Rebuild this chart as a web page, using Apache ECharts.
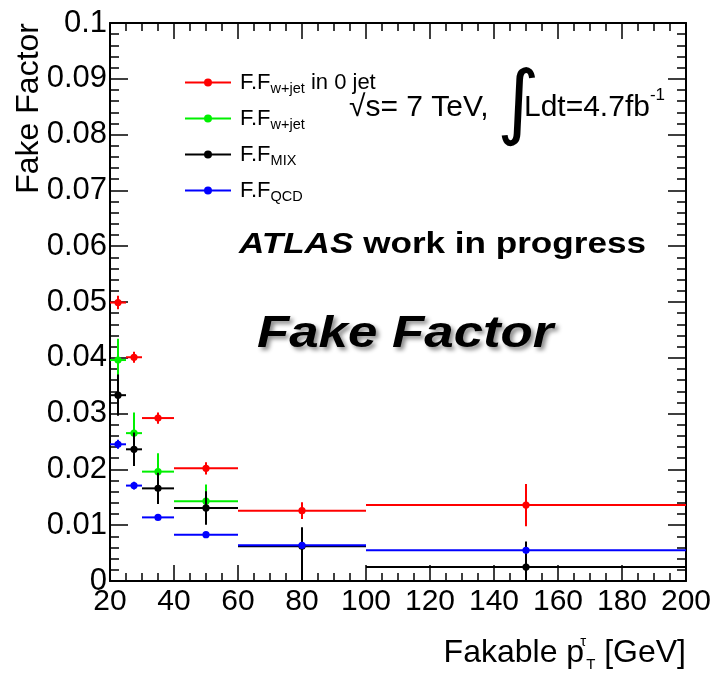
<!DOCTYPE html>
<html>
<head>
<meta charset="utf-8">
<script src="https://cdn.jsdelivr.net/npm/echarts@6/dist/echarts.min.js"></script>
<style>html,body{margin:0;padding:0;background:#fff}#c{width:714px;height:677px}</style>
</head>
<body>
<div id="c"></div>
<script>
// ---- data ----
const binLo = [20, 25, 30, 40, 60, 100];
const binHi = [25, 30, 40, 60, 100, 200];
const binCenter = [22.5, 27.5, 35, 50, 80, 150];

const ffW0jet = [0.0499, 0.0401, 0.0292, 0.0202, 0.0126, 0.0136];
const ffW0jetErr = [0.0012, 0.0010, 0.0010, 0.0011, 0.0015, 0.0038];

const ffWjet = [0.0396, 0.0265, 0.0196, 0.0143];
const ffWjetErr = [0.0038, 0.0037, 0.0033, 0.0030];

const ffMix = [0.0333, 0.0236, 0.0166, 0.0131, 0.00625, 0.0025];
const ffMixErrUp = [0.0037, 0.0030, 0.0028, 0.0030, 0.0034, 0.0046];
const ffMixErrDown = [0.0037, 0.0030, 0.0028, 0.0030, 0.00625, 0.0025];

const ffQcd = [0.0245, 0.0171, 0.0114, 0.0083, 0.0064, 0.0055];
const ffQcdErr = [0.0008, 0.0007, 0.0004, 0.0003, 0.0003, 0.0003];

const seriesNames = ['FF_wjet_0jet', 'FF_wjet', 'FF_MIX', 'FF_QCD'];
const legendMain = ['F.F', 'F.F', 'F.F', 'F.F'];
const legendSub = ['w+jet', 'w+jet', 'MIX', 'QCD'];
const legendTail = [' in 0 jet', '', '', ''];
const seriesColors = ['#ff0000', '#00f000', '#000000', '#0000ff'];

const xTicks = [20, 40, 60, 80, 100, 120, 140, 160, 180, 200];
const yTicks = [0, 0.01, 0.02, 0.03, 0.04, 0.05, 0.06, 0.07, 0.08, 0.09, 0.1];

function build(vals, up, down) {
  const out = [];
  for (let i = 0; i < vals.length; i++) {
    const v = vals[i];
    out.push([binCenter[i], v, binLo[i], binHi[i], Math.max(0, v - down[i]), v + up[i]]);
  }
  return out;
}
const seriesData = [
  build(ffW0jet, ffW0jetErr, ffW0jetErr),
  build(ffWjet, ffWjetErr, ffWjetErr),
  build(ffMix, ffMixErrUp, ffMixErrDown),
  build(ffQcd, ffQcdErr, ffQcdErr)
];

const FONT = '"Liberation Sans", Arial, Helvetica, sans-serif';

function renderPoint(color) {
  return function (params, api) {
    const xc = api.value(0), y = api.value(1);
    const p = api.coord([xc, y]);
    const pl = api.coord([api.value(2), y]);
    const pr = api.coord([api.value(3), y]);
    const pb = api.coord([xc, api.value(4)]);
    const pt = api.coord([xc, api.value(5)]);
    const st = { stroke: color, lineWidth: 2 };
    return {
      type: 'group',
      children: [
        { type: 'line', shape: { x1: pl[0], y1: p[1], x2: pr[0], y2: p[1] }, style: st },
        { type: 'line', shape: { x1: p[0], y1: pt[1], x2: p[0], y2: pb[1] }, style: st },
        { type: 'circle', shape: { cx: p[0], cy: p[1], r: 3.6 }, style: { fill: color } }
      ]
    };
  };
}

const iconPath = 'path://M0,3 L46,3 L46,5 L0,5 Z M19,4 A4,4 0 1,1 27,4 A4,4 0 1,1 19,4 Z';

const axisCommonX = {
  type: 'value', min: xTicks[0], max: xTicks[xTicks.length - 1], interval: 20,
  splitLine: { show: false },
  axisLine: { onZero: false, lineStyle: { color: '#000', width: 2 } },
  axisTick: { inside: true, length: 16, lineStyle: { color: '#000', width: 1.5 } },
  minorTick: { show: true, splitNumber: 4, length: 8, lineStyle: { color: '#000', width: 1.5 } },
  nameMoveOverlap: false
};
const axisCommonY = {
  type: 'value', min: yTicks[0], max: yTicks[yTicks.length - 1], interval: 0.01,
  splitLine: { show: false },
  axisLine: { onZero: false, lineStyle: { color: '#000', width: 2 } },
  axisTick: { inside: true, length: 18, lineStyle: { color: '#000', width: 1.5 } },
  minorTick: { show: true, splitNumber: 5, length: 9, lineStyle: { color: '#000', width: 1.5 } },
  nameMoveOverlap: false
};

const chart = echarts.init(document.getElementById('c'), null, { renderer: 'canvas' });
chart.setOption({
  backgroundColor: '#fff',
  animation: false,
  grid: { left: 110, right: 28, top: 23, bottom: 96, outerBoundsMode: 'none' },
  legend: {
    orient: 'vertical', left: 180, top: 64, itemWidth: 46, itemHeight: 8, itemGap: 9,
    selectedMode: false, icon: iconPath,
    data: seriesNames.map((n, i) => ({ name: n, icon: iconPath, itemStyle: { color: seriesColors[i] } })),
    formatter: function (name) {
      const i = seriesNames.indexOf(name);
      return '{m|' + legendMain[i] + '}{s|' + legendSub[i] + '}' + (legendTail[i] ? '{m|' + legendTail[i] + '}' : '');
    },
    textStyle: {
      padding: [0, 0, 0, 4],
      rich: {
        m: { fontFamily: FONT, fontSize: 22, lineHeight: 26, color: '#000' },
        s: { fontFamily: FONT, fontSize: 14.5, lineHeight: 14, padding: [12, 0, 0, 0], color: '#000' }
      }
    }
  },
  xAxis: [
    Object.assign({}, axisCommonX, {
      position: 'bottom',
      axisLabel: { show: true, color: '#000', fontFamily: FONT, fontSize: 30, margin: 6 },
      name: '{a|Fakable p}{sp|τ}{sb|T}{a| [GeV]}',
      nameLocation: 'end', nameGap: 0,
      nameTextStyle: {
        align: 'right', verticalAlign: 'top', padding: [52, 0, 0, 0],
        rich: {
          a: { fontFamily: FONT, fontSize: 32, lineHeight: 40, color: '#000' },
          sp: { fontFamily: FONT, fontSize: 15, lineHeight: 15, width: 1, padding: [0, 0, 22, 1], color: '#000' },
          sb: { fontFamily: FONT, fontSize: 15, lineHeight: 15, padding: [24, 0, 0, 0], color: '#000' }
        }
      }
    }),
    Object.assign({}, axisCommonX, { position: 'top', axisLabel: { show: false } })
  ],
  yAxis: [
    Object.assign({}, axisCommonY, {
      position: 'left',
      axisLabel: { show: true, color: '#000', fontFamily: FONT, fontSize: 31, margin: 3 },
      name: 'Fake Factor', nameLocation: 'end', nameRotate: 90, nameGap: 0,
      nameTextStyle: {
        align: 'right', verticalAlign: 'bottom', fontFamily: FONT, fontSize: 32,
        lineHeight: 32, color: '#000', padding: [0, 0, 65, 0]
      }
    }),
    Object.assign({}, axisCommonY, { position: 'right', axisLabel: { show: false } })
  ],
  graphic: [
    {
      type: 'text', x: 349, y: 108, z: 10,
      style: {
        text: '{r|√}{n|s= 7 TeV, }{i|∫}{n|Ldt=4.7fb}{sp|-1}',
        verticalAlign: 'middle', align: 'left',
        rich: {
          r: { fontFamily: FONT, fontSize: 30, lineHeight: 90, fill: '#000' },
          n: { fontFamily: FONT, fontSize: 30, lineHeight: 90, fill: '#000' },
          i: { fontFamily: '"DejaVu Sans", sans-serif', fontSize: 82, lineHeight: 90, width: 27, align: 'left', fill: '#000' },
          sp: { fontFamily: FONT, fontSize: 17, lineHeight: 17, padding: [0, 0, 26, 0], fill: '#000' }
        }
      }
    },
    {
      type: 'text', x: 239, y: 245, z: 10, scaleX: 1.17,
      style: {
        text: '{a|ATLAS}{b| work in progress}',
        verticalAlign: 'middle', align: 'left',
        rich: {
          a: { fontFamily: FONT, fontSize: 30, fontWeight: 'bold', fontStyle: 'italic', fill: '#000' },
          b: { fontFamily: FONT, fontSize: 30, fontWeight: 'bold', fill: '#000' }
        }
      }
    },
    {
      type: 'text', x: 257, y: 335, z: 10, scaleX: 1.2,
      style: {
        text: 'Fake Factor',
        fontFamily: FONT, fontSize: 44, fontWeight: 'bold', fontStyle: 'italic', fill: '#000',
        verticalAlign: 'middle', align: 'left',
        textShadowColor: 'rgba(0,0,0,0.45)', textShadowBlur: 4, textShadowOffsetX: 3, textShadowOffsetY: 3
      }
    }
  ],
  series: seriesNames.map((n, i) => ({
    name: n, type: 'custom', xAxisIndex: 0, yAxisIndex: 0, clip: true,
    itemStyle: { color: seriesColors[i] },
    renderItem: renderPoint(seriesColors[i]),
    encode: { x: [0, 2, 3], y: [1, 4, 5] },
    data: seriesData[i]
  }))
});
</script>
</body>
</html>
